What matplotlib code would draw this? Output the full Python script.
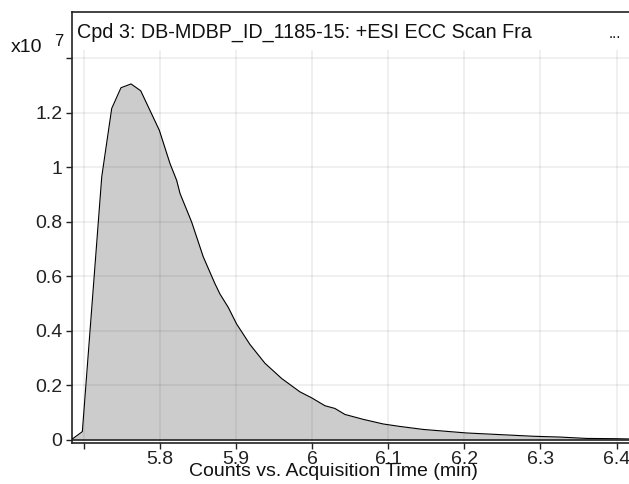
import matplotlib
matplotlib.use("Agg")
import matplotlib.pyplot as plt
import numpy as np

plt.rcParams['font.family'] = ['Liberation Sans', 'DejaVu Sans']

# retention time (min) and counts (x10^7)
time_min = [5.6842, 5.6978, 5.7233, 5.7364, 5.7486, 5.7618, 5.7745, 5.7990,
            5.8130, 5.8218, 5.8262, 5.8415, 5.8568, 5.8721, 5.8787, 5.8896,
            5.9006, 5.9181, 5.9378, 5.9598, 5.9838, 5.9992, 6.0167, 6.0298,
            6.0430, 6.0670, 6.0933, 6.1152, 6.1459, 6.1721, 6.2029, 6.2467,
            6.2904, 6.3255, 6.3606, 6.4000, 6.4164]
counts_e7 = [0.001, 0.029, 0.964, 1.215, 1.291, 1.305, 1.280, 1.135,
             1.013, 0.951, 0.903, 0.798, 0.670, 0.572, 0.534, 0.485,
             0.424, 0.349, 0.280, 0.224, 0.175, 0.153, 0.124, 0.114,
             0.092, 0.074, 0.057, 0.048, 0.037, 0.031, 0.024, 0.018,
             0.012, 0.009, 0.004, 0.003, 0.002]

x_ticks = [5.7, 5.8, 5.9, 6.0, 6.1, 6.2, 6.3, 6.4]
x_labels = ['', '5.8', '5.9', '6', '6.1', '6.2', '6.3', '6.4']
y_ticks = [0, 0.2, 0.4, 0.6, 0.8, 1.0, 1.2, 1.4]
y_labels = ['0', '0.2', '0.4', '0.6', '0.8', '1', '1.2', '']

title = "Cpd 3: DB-MDBP_ID_1185-15: +ESI ECC Scan Fra"

fig = plt.figure(figsize=(6.29, 4.84), dpi=100)
# frame: x from px 72 to right edge, y from px 12 (top) to px 443 (bottom)
ax = fig.add_axes([72/629, 41/484, 1 - 72/629, 431/484])

ax.set_xlim(5.6842, 6.4164)
ax.set_ylim(-0.0128, 1.569)

# grid (drawn over the fill, semi-transparent)
grid_top = 1.429
for yv in y_ticks[1:]:
    ax.axhline(yv, color='black', alpha=0.07, lw=1.2, zorder=3)
ax.vlines(x_ticks, -0.0128, grid_top, color='black', alpha=0.07, lw=1.2, zorder=3)

ax.fill_between(time_min, counts_e7, 0, color='#cccccc', lw=0, zorder=1)
ax.plot(time_min, counts_e7, color='black', lw=0.8, zorder=4)
ax.axhline(0, color='#222222', lw=1.2, zorder=4)

ax.set_xticks(x_ticks)
ax.set_xticklabels(x_labels)
ax.set_yticks(y_ticks)
ax.set_yticklabels(y_labels)
ax.tick_params(axis='both', direction='out', length=4, width=1, labelsize=14, colors='#222222')
ax.tick_params(axis='x', pad=2)
ax.tick_params(axis='y', pad=3)

ax.spines['right'].set_visible(False)
for s in ['left', 'top', 'bottom']:
    ax.spines[s].set_color('#222222')
    ax.spines[s].set_linewidth(1.2)

fig.text(77/629, 1 - 32/484, title, fontsize=14.2, va='center', ha='left', color='#111111')
fig.text(615/629, 1 - 34/484, '...', fontsize=11, va='center', ha='center', color='#111111')
fig.text(11/629, 1 - 47/484, 'x10', fontsize=14, va='center', ha='left', color='#111111')
fig.text(59/629, 1 - 42/484, '7', fontsize=12, va='center', ha='center', color='#111111')
fig.text(333/629, 1 - 472/484, 'Counts vs. Acquisition Time (min)', fontsize=14,
         va='center', ha='center', color='#111111')

fig.savefig('out.png', dpi=100)
